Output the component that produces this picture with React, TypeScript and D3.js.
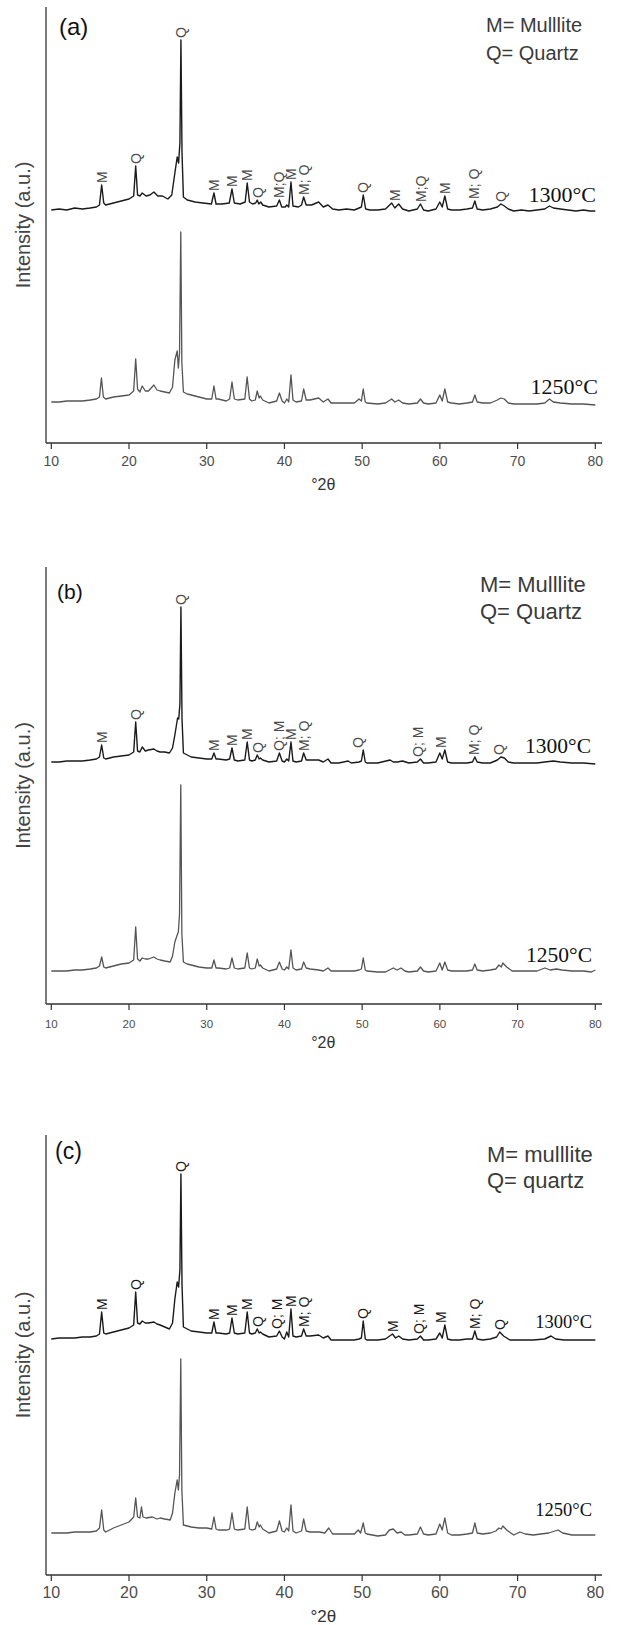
import React from 'react';
import * as d3 from 'd3';

type Pt = [number, number];

const X_TICKS = [10, 20, 30, 40, 50, 60, 70, 80];
const TEMPS = ['1300°C', '1250°C'];
const LEGEND_A = ['M= Mulllite', 'Q= Quartz'];
const LEGEND_B = ['M= Mulllite', 'Q= Quartz'];
const LEGEND_C = ['M= mulllite', 'Q= quartz'];

// ---------- panel (a) ----------
const A_1300: Pt[] = [[10,233],[11,234],[12,233],[13,235],[14,234],[15,235],[15.8,236],[16.2,238],[16.48,258],[16.75,240],[17,238],[18,240],[19,242],[20,244],[20.6,247],[20.86,277],[21.1,248],[21.4,247],[21.7,250],[22.2,247],[22.7,248],[23.2,251],[23.7,247],[24.3,247],[25,244],[25.5,248],[25.9,270],[26.2,286],[26.38,280],[26.55,300],[26.68,403],[26.82,290],[27.0,246],[27.5,243],[28.5,241],[29.5,240],[30.6,239],[30.93,250],[31.2,239],[32,239],[32.9,240],[33.25,254],[33.55,240],[34.3,239],[34.95,241],[35.21,260],[35.5,241],[35.9,239],[36.3,240],[36.5,243],[36.7,239],[36.95,241],[37.2,238],[38,236],[39.0,237],[39.35,243],[39.65,236],[40.1,236],[40.3,238],[40.55,236],[40.84,261],[41.1,237],[41.8,236],[42.2,238],[42.47,246],[42.8,238],[43.5,238],[44.4,241],[45,236],[45.6,238],[46.2,234],[47,233],[48,234],[49,233],[49.6,235],[49.9,236],[50.14,248],[50.45,234],[51,233],[52,233],[53,234],[53.8,240],[54.2,235],[54.7,239],[55.2,234],[56,232],[57.1,234],[57.5,239],[57.9,233],[58.5,232],[59.5,234],[59.99,241],[60.3,236],[60.64,247],[61,234],[61.5,233],[62.5,233],[63.5,234],[64.2,235],[64.5,242],[64.8,234],[65.5,233],[66.5,234],[67.4,236],[67.85,239],[68.3,237],[68.8,234],[69.5,232],[70.5,233],[71.5,232],[72.5,233],[73.5,234],[74.1,237],[74.6,235],[75.5,234],[76.5,233],[77.5,232],[78.5,233],[79.3,232],[80,232]];
const A_1250: Pt[] = [[10,41],[11,41],[12,42],[13,42],[14,42],[15,43],[15.8,44],[16.2,46],[16.45,65],[16.7,46],[17,44],[18,46],[19,47],[20,48],[20.6,52],[20.86,84],[21.1,54],[21.4,51],[21.7,57],[22.1,52],[22.5,52],[23.2,58],[23.6,53],[24,52],[24.6,51],[25.2,50],[25.6,56],[25.9,83],[26.2,92],[26.35,75],[26.5,90],[26.66,211],[26.8,80],[27.0,51],[27.5,49],[28,48],[29,46],[30,44],[30.65,44],[30.93,57],[31.2,44],[31.5,44],[32.5,42],[32.95,44],[33.25,61],[33.55,44],[34,43],[34.9,44],[35.2,66],[35.5,44],[35.8,42],[36.25,43],[36.5,52],[36.75,45],[36.9,47],[37.2,43],[38,40],[39.0,42],[39.35,50],[39.7,42],[40.0,40],[40.3,44],[40.55,41],[40.84,68],[41.1,43],[41.5,41],[42.2,42],[42.47,54],[42.8,43],[43.3,43],[44.4,45],[45,41],[45.6,44],[46,40],[47,40],[48,40],[49,40],[49.6,44],[49.9,42],[50.14,54],[50.4,41],[50.6,40],[52,39],[53,40],[53.8,44],[54.2,41],[54.7,43],[55.2,40],[56,39],[57.1,40],[57.5,44],[57.9,40],[58.5,39],[59.5,40],[59.99,48],[60.3,42],[60.64,54],[61,41],[61.5,40],[62.5,39],[63.5,40],[64.2,41],[64.5,48],[64.8,41],[65.5,40],[66.5,40],[67.4,43],[67.85,45],[68.3,44],[68.8,40],[69.5,39],[71,39],[72.5,39],[73.5,40],[74.1,44],[74.6,41],[75.5,40],[77,39],[78.5,39],[80,38]];
const A_LABELS: [number, string][] = [[16.48,'M'],[20.86,'Q'],[26.68,'Q'],[30.93,'M'],[33.25,'M'],[35.21,'M'],[36.6,'Q'],[39.35,'M;Q'],[40.84,'M'],[42.5,'M; Q'],[50.14,'Q'],[54.2,'M'],[57.6,'M;Q'],[60.7,'M'],[64.4,'M; Q'],[67.85,'Q']];

// ---------- panel (b) ----------
const B_1300: Pt[] = [[10,242],[11,242],[12,243],[13,243],[14,243],[15,244],[15.8,245],[16.2,247],[16.48,259],[16.75,246],[17,245],[18,247],[19,248],[20,249],[20.6,252],[20.86,282],[21.1,253],[21.4,252],[21.7,257],[22.1,253],[22.5,254],[23.2,255],[23.6,253],[24,252],[24.6,252],[25.2,251],[25.6,256],[25.9,269],[26.25,286],[26.4,285],[26.55,300],[26.68,397],[26.82,285],[27.0,251],[27.5,249],[28,247],[29,246],[30,245],[30.65,245],[30.93,251],[31.2,245],[31.5,245],[32.5,244],[32.95,245],[33.25,256],[33.55,244],[34,243],[34.9,244],[35.21,262],[35.5,244],[35.8,243],[36.25,244],[36.5,249],[36.75,245],[36.9,246],[37.2,244],[38,242],[39.0,243],[39.35,251],[39.7,243],[40.0,242],[40.3,245],[40.55,243],[40.84,262],[41.1,243],[41.5,242],[42.2,243],[42.47,251],[42.8,244],[43.3,244],[44.4,244],[45,242],[45.6,245],[46,241],[47,241],[48.2,243],[48.6,241],[49.6,242],[49.9,243],[50.14,254],[50.4,242],[50.6,241],[52,241],[53.6,244],[54,242],[54.5,242],[55.2,243],[56,241],[57.1,242],[57.5,245],[57.9,241],[58.5,241],[59.5,242],[59.99,251],[60.3,245],[60.64,254],[61,242],[61.5,241],[62.5,241],[63.5,241],[64.2,242],[64.5,247],[64.8,242],[65.5,241],[66.5,241],[67.4,244],[67.85,247],[68.3,246],[68.8,242],[69.5,241],[71,241],[72.5,241],[73.5,242],[74.6,243],[75.5,242],[77,241],[78.5,241],[80,240]];
const B_1250: Pt[] = [[10,33],[11,33],[12,33],[13,34],[14,34],[15,35],[15.8,36],[16.2,38],[16.48,47],[16.75,37],[17,36],[18,38],[19,40],[20,41],[20.6,44],[20.86,77],[21.1,45],[21.4,43],[21.7,46],[22.1,45],[22.5,45],[23.2,47],[23.6,45],[24,44],[24.6,43],[25.3,42],[25.6,48],[25.9,62],[26.2,69],[26.35,72],[26.5,90],[26.66,219],[26.8,70],[27.0,42],[27.5,40],[28,39],[29,37],[30,36],[30.65,36],[30.93,44],[31.2,36],[31.5,36],[32.5,35],[32.95,36],[33.25,46],[33.55,36],[34,35],[34.9,36],[35.21,51],[35.5,36],[35.8,35],[36.25,36],[36.5,45],[36.75,38],[36.9,39],[37.2,36],[38,33],[39.0,35],[39.35,42],[39.7,35],[40.0,34],[40.3,37],[40.55,35],[40.84,54],[41.1,36],[41.5,34],[42.2,35],[42.47,42],[42.8,36],[43.3,35],[44.4,34],[45,33],[45.6,36],[46,33],[47,33],[48,33],[49,33],[49.6,34],[49.9,35],[50.14,46],[50.4,34],[50.6,33],[52,32],[53,32],[54,36],[54.5,34],[55,36],[55.5,33],[56,32],[57.1,33],[57.5,37],[57.9,33],[58.5,32],[59.5,33],[59.99,41],[60.3,34],[60.64,42],[61,34],[61.5,33],[62.5,33],[63.5,33],[64.2,34],[64.5,40],[64.8,34],[65.5,33],[66.5,34],[67.2,35],[67.6,39],[67.9,37],[68.1,41],[68.6,37],[69.3,33],[71,33],[72.5,33],[73.5,36],[74.2,34],[75,35],[75.7,34],[77,33],[78.5,33],[79.5,32],[80,34]];
const B_LABELS: [number, string][] = [[16.48,'M'],[20.86,'Q'],[26.68,'Q'],[30.93,'M'],[33.25,'M'],[35.21,'M'],[36.6,'Q'],[39.35,'Q; M'],[40.84,'M'],[42.5,'M; Q'],[49.5,'Q'],[57.2,'Q; M'],[60.2,'M'],[64.4,'M; Q'],[67.6,'Q']];

// ---------- panel (c) ----------
const C_1300: Pt[] = [[10,236],[11,237],[12,237],[13,237],[14,238],[15,238],[15.8,239],[16.2,241],[16.48,263],[16.75,242],[17,241],[18,243],[19,245],[20,247],[20.6,250],[20.86,283],[21.1,252],[21.4,251],[21.7,254],[22.1,252],[22.5,252],[23.2,253],[23.6,251],[24,250],[24.6,248],[25.2,246],[25.6,252],[25.9,276],[26.2,293],[26.38,288],[26.55,305],[26.68,401],[26.82,290],[27.0,248],[27.5,246],[28,244],[29,243],[30,242],[30.65,242],[30.93,253],[31.2,242],[31.5,242],[32.5,241],[32.95,242],[33.25,257],[33.55,242],[34,241],[34.9,242],[35.21,263],[35.5,242],[35.8,241],[36.25,242],[36.5,246],[36.75,242],[36.9,243],[37.2,241],[38,238],[39.0,239],[39.35,244],[39.7,238],[40.0,236],[40.3,243],[40.55,238],[40.84,266],[41.1,239],[41.5,238],[42.2,239],[42.47,246],[42.8,239],[43.3,239],[44.4,240],[45,237],[45.6,239],[46,235],[47,235],[48,235],[49,235],[49.6,236],[49.9,237],[50.14,254],[50.4,236],[50.6,235],[52,235],[53,236],[53.9,241],[54.3,237],[54.7,239],[55.2,236],[56,235],[57.1,236],[57.5,239],[57.9,235],[58.5,235],[59.5,236],[59.99,242],[60.3,237],[60.64,250],[61,236],[61.5,235],[62.5,235],[63.5,236],[64.2,236],[64.5,244],[64.8,236],[65.5,235],[66.5,236],[67.3,238],[67.7,243],[68.2,239],[69,235],[70.5,235],[72,235],[73.5,236],[74.3,239],[74.9,236],[76,235],[77.5,235],[79,235],[80,235]];
const C_1250: Pt[] = [[10,42],[11,42],[12,42],[13,43],[14,43],[15,43],[15.8,44],[16.2,47],[16.48,65],[16.75,45],[17,43],[18,47],[19,50],[20,53],[20.6,58],[20.86,77],[21.1,58],[21.4,57],[21.6,68],[21.8,58],[22.2,57],[23,58],[23.6,56],[24,57],[24.6,56],[25.3,55],[25.6,62],[25.9,82],[26.2,95],[26.35,85],[26.5,100],[26.66,216],[26.8,85],[27.0,50],[27.5,49],[28,48],[29,47],[30,47],[30.65,46],[30.93,58],[31.2,46],[31.5,45],[32.5,45],[32.95,46],[33.25,62],[33.55,46],[34,45],[34.9,46],[35.21,68],[35.5,46],[35.8,45],[36.25,46],[36.5,53],[36.75,48],[36.9,50],[37.2,46],[38,42],[39.0,44],[39.35,54],[39.7,44],[40.0,43],[40.3,47],[40.55,44],[40.84,70],[41.1,44],[41.5,42],[42.2,44],[42.47,56],[42.8,44],[43.3,43],[44.5,43],[45.2,42],[45.7,47],[46.2,41],[47,41],[48,41],[49,41],[49.5,45],[49.8,42],[50.14,52],[50.4,42],[50.6,41],[52,39],[53,40],[53.5,45],[54,46],[54.5,42],[55,43],[55.5,40],[56,40],[57.1,41],[57.5,48],[57.9,41],[58.5,40],[59.5,41],[59.99,51],[60.3,45],[60.64,57],[61,42],[61.5,40],[62.5,40],[63.5,41],[64.2,42],[64.5,52],[64.8,42],[65.5,41],[66.5,42],[67.2,44],[67.6,47],[67.9,46],[68.1,49],[68.6,45],[69.5,40],[70.3,43],[71,41],[72,40],[73,41],[74,42],[75.2,45],[75.8,42],[77,40],[78.5,40],[80,40]];
const C_LABELS: [number, string][] = [[16.48,'M'],[20.86,'Q'],[26.68,'Q'],[30.93,'M'],[33.25,'M'],[35.21,'M'],[36.6,'Q'],[39.1,'Q; M'],[40.84,'M'],[42.5,'M; Q'],[50.14,'Q'],[53.9,'M'],[57.3,'Q; M'],[60.2,'M'],[64.5,'M; Q'],[67.7,'Q']];

interface PanelCfg {
  letter: string;
  top: number;
  bottom: number;
  hiData: Pt[];
  loData: Pt[];
  labels: [number, string][];
  legend: string[];
  letterFont: number; letterX: number; letterY: number;
  legendFont: number; legendX: number; legendY1: number; legendY2: number;
  tickFont: number; tickY: number; xlabY: number; xlabFont: number;
  tempFont: number; hiTempX: number; hiTempY: number; loTempX: number; loTempY: number;
  labelColor: string;
}

const PANELS: PanelCfg[] = [
  { letter: '(a)', top: 7, bottom: 443, hiData: A_1300, loData: A_1250, labels: A_LABELS, legend: LEGEND_A,
    letterFont: 24, letterX: 59, letterY: 35, legendFont: 20, legendX: 486, legendY1: 32, legendY2: 60,
    tickFont: 14, tickY: 466, xlabY: 490, xlabFont: 16, tempFont: 22, hiTempX: 596, hiTempY: 202, loTempX: 598, loTempY: 394, labelColor: '#4a4a4a' },
  { letter: '(b)', top: 567, bottom: 1004, hiData: B_1300, loData: B_1250, labels: B_LABELS, legend: LEGEND_B,
    letterFont: 21, letterX: 57, letterY: 599, legendFont: 22, legendX: 480, legendY1: 592, legendY2: 619,
    tickFont: 11.5, tickY: 1028, xlabY: 1048, xlabFont: 16, tempFont: 21.5, hiTempX: 591, hiTempY: 753, loTempX: 592, loTempY: 962, labelColor: '#4a4a4a' },
  { letter: '(c)', top: 1135, bottom: 1575, hiData: C_1300, loData: C_1250, labels: C_LABELS, legend: LEGEND_C,
    letterFont: 23, letterX: 55, letterY: 1159, legendFont: 22, legendX: 487, legendY1: 1162, legendY2: 1188,
    tickFont: 16, tickY: 1598, xlabY: 1622, xlabFont: 17, tempFont: 18.5, hiTempX: 592, hiTempY: 1328, loTempX: 592, loTempY: 1516, labelColor: '#1a1a1a' },
];

const SANS = '"Liberation Sans", Arial, Helvetica, sans-serif';
const SERIF = '"Liberation Serif", "Times New Roman", serif';

function Panel({ p }: { p: PanelCfg }) {
  const x = d3.scaleLinear().domain([10, 80]).range([51.3, 595.3]);
  const y = d3.scaleLinear().domain([0, 440]).range([p.bottom, p.bottom - 440]);
  const line = d3.line<Pt>().x(d => x(d[0])).y(d => y(d[1]));
  const axisX = 46;
  const peakOf = (pos: number) => {
    const inWin = p.hiData.filter(d => Math.abs(d[0] - pos) <= 0.7);
    return d3.max(inWin, d => d[1]) ?? 0;
  };
  const midY = (p.top + p.bottom) / 2;
  return (
    <g>
      <line x1={axisX} x2={axisX} y1={p.top} y2={p.bottom} stroke="#333" strokeWidth={1.3} />
      <line x1={axisX} x2={602} y1={p.bottom} y2={p.bottom} stroke="#333" strokeWidth={1.3} />
      {X_TICKS.map(t => (
        <g key={t}>
          <line x1={x(t)} x2={x(t)} y1={p.bottom} y2={p.bottom + 6} stroke="#333" strokeWidth={1.2} />
          <text x={x(t)} y={p.tickY} textAnchor="middle" fontFamily={SANS} fontSize={p.tickFont} fill="#4d4d4d">{t}</text>
        </g>
      ))}
      <text x={(x(10) + x(80)) / 2} y={p.xlabY} textAnchor="middle" fontFamily={SANS} fontSize={p.xlabFont} fill="#333">°2θ</text>
      <text transform={`translate(30,${midY}) rotate(-90)`} textAnchor="middle" fontFamily={SANS} fontSize={20} fill="#444">Intensity (a.u.)</text>
      <path d={line(p.loData) ?? ''} fill="none" stroke="#555" strokeWidth={1.3} strokeLinejoin="round" />
      <path d={line(p.hiData) ?? ''} fill="none" stroke="#1a1a1a" strokeWidth={1.4} strokeLinejoin="round" />
      {p.labels.map(([pos, txt], i) => (
        <text key={i} transform={`translate(${x(pos)},${y(peakOf(pos)) - 2}) rotate(-90)`} dy="0.36em"
          fontFamily={SANS} fontSize={14} fill={p.labelColor}>{txt}</text>
      ))}
      <text x={p.letterX} y={p.letterY} fontFamily={SANS} fontSize={p.letterFont} fill="#111">{p.letter}</text>
      <text x={p.legendX} y={p.legendY1} fontFamily={SANS} fontSize={p.legendFont} fill="#3a3a3a">{p.legend[0]}</text>
      <text x={p.legendX} y={p.legendY2} fontFamily={SANS} fontSize={p.legendFont} fill="#3a3a3a">{p.legend[1]}</text>
      <text x={p.hiTempX} y={p.hiTempY} textAnchor="end" fontFamily={SERIF} fontSize={p.tempFont} fill="#111">{TEMPS[0]}</text>
      <text x={p.loTempX} y={p.loTempY} textAnchor="end" fontFamily={SERIF} fontSize={p.tempFont} fill="#111">{TEMPS[1]}</text>
    </g>
  );
}

export default function App() {
  return (
    <svg width={619} height={1625} style={{ position: 'absolute', left: 0, top: 0, background: '#fff' }}>
      <rect width={619} height={1625} fill="#fff" />
      {PANELS.map((p, i) => <Panel key={i} p={p} />)}
    </svg>
  );
}
